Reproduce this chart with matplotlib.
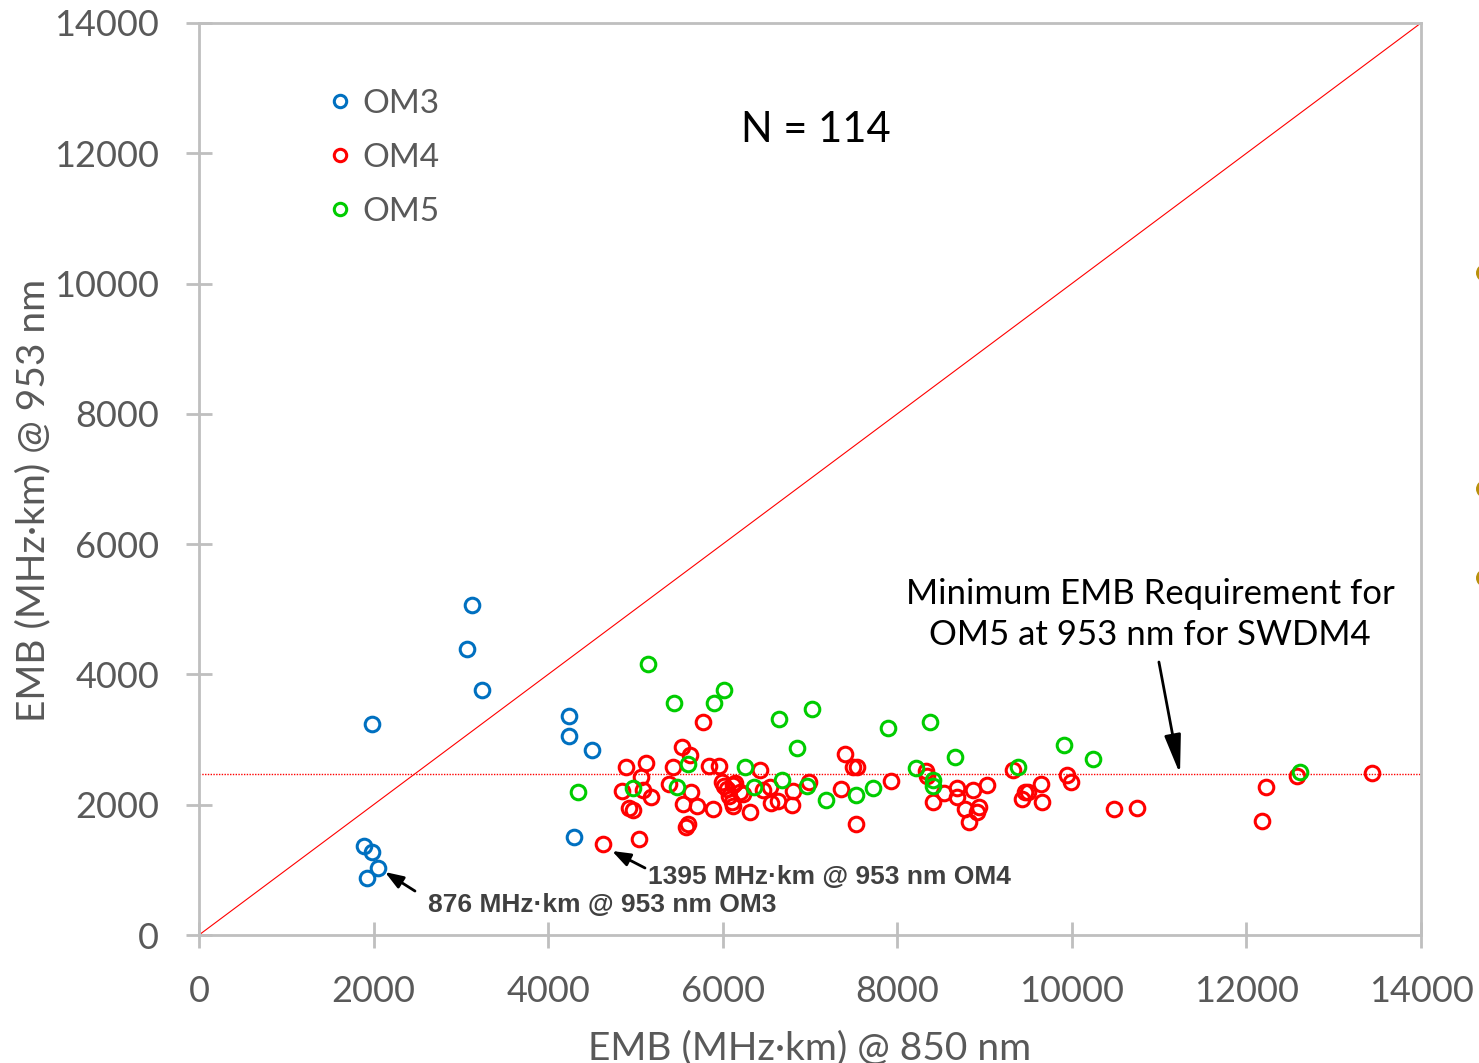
import numpy as np
import matplotlib
matplotlib.use("Agg")
import matplotlib.pyplot as plt
from matplotlib.patches import Ellipse

# EMB @ 850 nm (x) and EMB @ 953 nm (y), MHz·km
om3_x = [3124, 3067, 3242, 1985, 4242, 4242, 4506, 4300, 1894, 1979, 2054, 1928]
om3_y = [5061, 4386, 3761, 3234, 3357, 3050, 2845, 1500, 1366, 1279, 1029, 876]

om4_x = [4895, 5121, 5067, 4852, 5092, 5175, 4930, 4976, 5041, 4632,
         5771, 5537, 5625, 5427, 5387, 5640, 5551, 5705, 5892, 5597,
         5583, 5843, 5955, 5988, 6046, 6120, 6078, 6103, 6118, 6137,
         6198, 6232, 6015, 6431, 6318, 6464, 6539, 6557, 6639, 6800,
         6796, 6986, 7404, 7496, 7541, 7361, 7529, 7926, 8329, 8337,
         8413, 8535, 8684, 8681, 8864, 9024, 8781, 8933, 8913, 8818,
         9329, 9425, 9463, 9501, 9650, 9655, 9941, 9990, 10485, 10743,
         12224, 12175, 12576, 13439]
om4_y = [2579, 2633, 2433, 2203, 2223, 2118, 1954, 1919, 1481, 1395,
         3265, 2883, 2768, 2574, 2321, 2192, 2016, 1973, 1927, 1710,
         1655, 2594, 2597, 2356, 2234, 2298, 2141, 2049, 1980, 2333,
         2200, 2157, 2287, 2538, 1884, 2223, 2267, 2031, 2054, 2206,
         1996, 2352, 2771, 2574, 2574, 2237, 1704, 2367, 2518, 2448,
         2042, 2184, 2260, 2118, 2226, 2307, 1939, 1962, 1888, 1739,
         2538, 2085, 2188, 2195, 2323, 2042, 2456, 2344, 1930, 1954,
         2277, 1750, 2445, 2491]

om5_x = [4348, 5150, 5442, 5904, 6015, 6648, 7023, 6849, 5600, 4969,
         5473, 6253, 6364, 6683, 6969, 7181, 7525, 7718, 7894, 8375,
         8661, 8214, 8413, 8409, 9386, 9913, 10246, 12614]
om5_y = [2191, 4156, 3561, 3566, 3756, 3313, 3465, 2866, 2630, 2260,
         2267, 2579, 2272, 2375, 2290, 2068, 2146, 2264, 3178, 3267,
         2736, 2556, 2372, 2295, 2574, 2917, 2699, 2498]

om5_min_953 = 2470
ticks = [0, 2000, 4000, 6000, 8000, 10000, 12000, 14000]

grey = "#595959"
plt.rcParams["font.family"] = ["Lato", "DejaVu Sans"]

fig = plt.figure(figsize=(14.79, 10.63), dpi=100)
ax = fig.add_axes([0.1345, 0.1204, 0.8263, 0.858])

mk = dict(linestyle="none", marker="o", markersize=10.5, markerfacecolor="none",
          markeredgewidth=2.2)
ax.plot(om3_x, om3_y, markeredgecolor="#0070C0", label="OM3", **mk)
ax.plot(om4_x, om4_y, markeredgecolor="#FF0000", label="OM4", **mk)
ax.plot(om5_x, om5_y, markeredgecolor="#00CC00", label="OM5", **mk)

# 1:1 line and OM5 minimum at 953 nm
ax.plot([0, 14000], [0, 14000], color="#FF0000", lw=0.8, zorder=1)
ax.axhline(om5_min_953, color="#FF0000", lw=1.0, ls=(0, (1, 1)), zorder=1)

ax.set_xlim(0, 14000)
ax.set_ylim(0, 14000)
ax.set_xticks(ticks)
ax.set_yticks(ticks)
ax.tick_params(direction="inout", length=19, width=2, color="#BFBFBF",
               labelsize=26, labelcolor=grey, pad=19)
for s in ax.spines.values():
    s.set_color("#BFBFBF")
    s.set_linewidth(2)

ax.set_xlabel("EMB (MHz·km) @ 850 nm", fontsize=28, color=grey, labelpad=16)
ax.set_ylabel("EMB (MHz·km) @ 953 nm", fontsize=28, color=grey)
ax.yaxis.set_label_coords(-0.121, 0.477)

leg = ax.legend(loc="upper left", bbox_to_anchor=(0.094, 0.946), frameon=False,
                fontsize=24, markerscale=0.85, handlelength=0.6,
                handletextpad=0.35, labelspacing=0.72, borderpad=0)
for t in leg.get_texts():
    t.set_color(grey)

ax.text(7069, 12358, "N = 114", fontsize=30, color="black", ha="center", va="center")

ax.annotate("Minimum EMB Requirement for\nOM5 at 953 nm for SWDM4",
            xy=(11239, om5_min_953), xytext=(10895, 4920),
            fontsize=25, color="black", ha="center", va="center", linespacing=1.35,
            arrowprops=dict(arrowstyle="-|>,head_length=0.95,head_width=0.2",
                            color="black", lw=2, shrinkA=6, shrinkB=0))

bold = dict(fontsize=19, fontweight="bold", color="#404040",
            family=["Liberation Sans Narrow", "Liberation Sans"])
arrow_small = dict(arrowstyle="-|>,head_length=1.1,head_width=0.4",
                   color="black", lw=2, shrinkA=0, shrinkB=0)
ax.annotate("", xy=(2131, 967), xytext=(2475, 675), arrowprops=arrow_small)
ax.text(2624, 461, "876 MHz·km @ 953 nm OM3", va="center", ha="left", **bold)
ax.annotate("", xy=(4732, 1290), xytext=(5110, 1029), arrowprops=arrow_small)
ax.text(5144, 890, "1395 MHz·km @ 953 nm OM4", va="center", ha="left", **bold)

# bullets of the neighbouring slide text, cut by the right edge
for fy in [273, 489, 578]:
    fig.add_artist(Ellipse((1484 / 1479, 1 - fy / 1063), 16 / 1479, 17 / 1063,
                           transform=fig.transFigure, facecolor="#B8900A",
                           edgecolor="none", clip_on=False))

fig.savefig("out.png", dpi=100)
